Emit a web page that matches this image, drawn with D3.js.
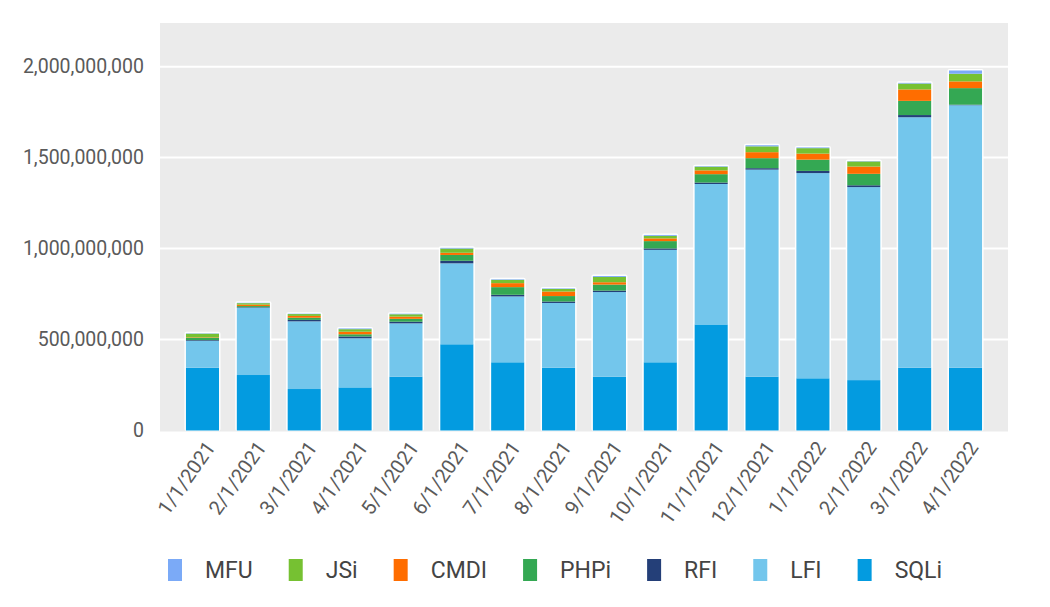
<!DOCTYPE html>
<html>
<head>
<meta charset="utf-8">
<script src="https://cdn.jsdelivr.net/npm/d3@7"></script>
<style>
  html, body { margin: 0; padding: 0; background: #fff; }
  svg { display: block; font-family: Roboto, "Noto Sans", sans-serif; }
</style>
</head>
<body>
<svg id="chart" width="1050" height="607"></svg>
<script>
// ---- data (values in attacks) ----
const months = ["1/1/2021","2/1/2021","3/1/2021","4/1/2021","5/1/2021","6/1/2021","7/1/2021","8/1/2021",
                "9/1/2021","10/1/2021","11/1/2021","12/1/2021","1/1/2022","2/1/2022","3/1/2022","4/1/2022"];
const M = 1e6;
const SQLi = [345,305,228,237,296,474,375,345,296,375,583,296,287,277,345,345].map(v => v * M);
const LFI  = [148,370,372,270,293,445,362,356,465,618,772,1138,1128,1061,1377,1443].map(v => v * M);
const RFI  = [4,3,8,10,9,14,9,8,8,8,8,8,12,10,12,3].map(v => v * M);
const PHPi = [12,6,12,12,16,32,42,30,33,40,46,55,62,63,78,91].map(v => v * M);
const CMDI = [3,8,10,14,12,12,22,25,13,15,21,33,33,40,63,37].map(v => v * M);
const JSi  = [20,8,10,14,13,23,18,14,29,14,20,32,30,28,32,42].map(v => v * M);
const MFU  = [2,2,2,4,3,4,3,3,5,5,3,6,4,2,4,18].map(v => v * M);
const yTicks = [0, 500e6, 1000e6, 1500e6, 2000e6];
const stackOrder = ["SQLi","LFI","RFI","PHPi","CMDI","JSi","MFU"];
const legendOrder = ["MFU","JSi","CMDI","PHPi","RFI","LFI","SQLi"];

const seriesData = { SQLi, LFI, RFI, PHPi, CMDI, JSi, MFU };
const colors = {
  SQLi: "#039be0", LFI: "#73c6ec", RFI: "#243f78", PHPi: "#34a853",
  CMDI: "#ff6d00", JSi: "#76c132", MFU: "#7baaf7"
};

const rows = months.map((m, i) => {
  const r = { month: m };
  stackOrder.forEach(k => r[k] = seriesData[k][i]);
  return r;
});

// ---- layout ----
const svg = d3.select("#chart");
const plot = { left: 160, right: 1008, top: 23, bottom: 430.5 };

const x = d3.scaleBand().domain(months).range([plot.left, plot.right])
  .paddingInner(0.35).paddingOuter(0.51);
const y = d3.scaleLinear().domain([0, 2.24e9]).range([plot.bottom, plot.top]);

// plot background
svg.append("rect")
  .attr("x", plot.left).attr("y", plot.top)
  .attr("width", plot.right - plot.left).attr("height", plot.bottom - plot.top + 1)
  .attr("fill", "#ebebeb");

// gridlines
svg.append("g").selectAll("line").data(yTicks.filter(d => d > 0)).join("line")
  .attr("x1", plot.left).attr("x2", plot.right)
  .attr("y1", d => y(d)).attr("y2", d => y(d))
  .attr("stroke", "#fff").attr("stroke-width", 2);

// y axis
const yAxis = d3.axisLeft(y).tickValues(yTicks).tickFormat(d3.format(",")).tickSize(0).tickPadding(0);
const gy = svg.append("g").attr("transform", `translate(${plot.left - 16},0)`).call(yAxis);
gy.select(".domain").remove();
gy.selectAll("text").attr("font-size", 19.5).attr("fill", "#5a5a5a")
  .attr("font-family", "Roboto, sans-serif");

// stacks
const stack = d3.stack().keys(stackOrder);
const series = stack(rows);

// white outline behind each bar
svg.append("g").selectAll("rect").data(rows).join("rect")
  .attr("x", d => x(d.month) - 1.5)
  .attr("width", x.bandwidth() + 3)
  .attr("y", d => y(d3.sum(stackOrder, k => d[k])) - 1.5)
  .attr("height", d => plot.bottom - y(d3.sum(stackOrder, k => d[k])) + 2)
  .attr("fill", "#fff").attr("rx", 2);

svg.append("g").selectAll("g").data(series).join("g")
  .attr("fill", s => colors[s.key])
  .selectAll("rect").data(s => s).join("rect")
  .attr("x", d => x(d.data.month))
  .attr("width", x.bandwidth())
  .attr("y", d => y(d[1]))
  .attr("height", d => Math.max(0, y(d[0]) - y(d[1])));

// x axis labels
const xAxis = d3.axisBottom(x).tickSize(0).tickPadding(0);
const gx = svg.append("g").attr("transform", `translate(0,${plot.bottom + 13})`).call(xAxis);
gx.select(".domain").remove();
gx.selectAll("text")
  .attr("font-size", 20).attr("fill", "#5a5a5a")
  .attr("font-family", "Roboto, sans-serif")
  .attr("text-anchor", "end")
  .attr("dy", "0.35em")
  .attr("transform", "translate(8,0) rotate(-55)");

// legend
const legend = svg.append("g").attr("transform", "translate(168,570)");
let lx = 0;
legendOrder.forEach(k => {
  const g = legend.append("g").attr("transform", `translate(${lx},0)`);
  g.append("rect").attr("x", 0).attr("y", -11).attr("width", 14).attr("height", 22)
    .attr("fill", colors[k]);
  const t = g.append("text").attr("x", 37).attr("y", 0).attr("dy", "0.35em")
    .attr("font-size", 23).attr("fill", "#444").attr("font-family", "Roboto, sans-serif")
    .text(k);
  lx += 37 + t.node().getComputedTextLength() + 36;
});
</script>
</body>
</html>
